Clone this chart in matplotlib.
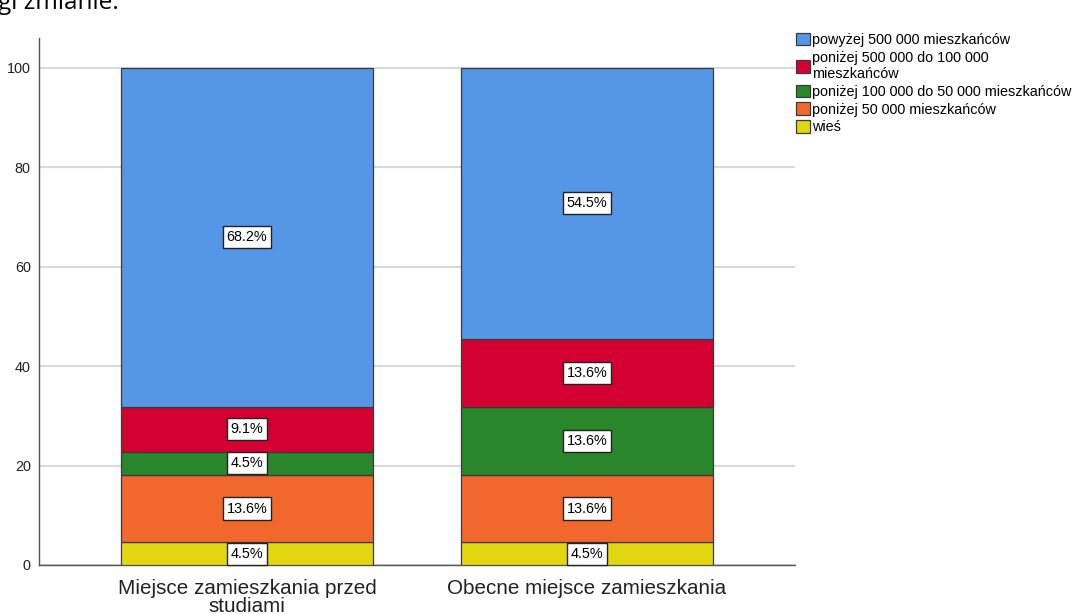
import matplotlib.pyplot as plt
import numpy as np

plt.rcParams['font.family'] = ['Liberation Sans', 'DejaVu Sans']

# data (percent of respondents)
groups = ['Miejsce zamieszkania przed\nstudiami', 'Obecne miejsce zamieszkania']
categories = ['wieś', 'poniżej 50 000 mieszkańców', 'poniżej 100 000 do 50 000 mieszkańców',
              'poniżej 500 000 do 100 000\nmieszkańców', 'powyżej 500 000 mieszkańców']
wies = [4.545, 4.545]
below_50k = [13.636, 13.636]
from_50k_to_100k = [4.545, 13.636]
from_100k_to_500k = [9.091, 13.636]
above_500k = [68.182, 54.545]
yticks = [0, 20, 40, 60, 80, 100]

series = [wies, below_50k, from_50k_to_100k, from_100k_to_500k, above_500k]
colors = ['#e3d80f', '#f2682c', '#2a862a', '#d50032', '#5596e6']

fig = plt.figure(figsize=(10.73, 6.14), dpi=100)
ax = fig.add_axes([39/1073, 1 - 565/614, (795-39)/1073, (565-38)/614])

x = np.arange(len(groups))
bottom = np.zeros(len(groups))
handles = []
for vals, col, lab in zip(series, colors, categories):
    vals = np.array(vals)
    bars = ax.bar(x, vals, 0.741, bottom=bottom, color=col, edgecolor='#3a3a3a',
                  linewidth=0.9, label=lab, zorder=3)
    handles.append(bars)
    for xi, v, b in zip(x, vals, bottom):
        ax.text(xi, b + v/2, f'{v:.1f}%', ha='center', va='center', fontsize=10.4,
                color='black', zorder=4,
                bbox=dict(boxstyle='square,pad=0.28', fc='white', ec='#222222', lw=1.0))
    bottom += vals

ax.set_xlim(-0.612, 1.612)
ax.set_ylim(0, 106)
ax.set_yticks(yticks)
ax.set_xticks(x)
ax.set_xticklabels(groups, fontsize=14.9, color='#222222', linespacing=0.95)
ax.tick_params(axis='y', length=0, labelsize=10.4, colors='#222222', pad=6)
ax.tick_params(axis='x', length=0, pad=10)
ax.grid(axis='y', color='#d9d9d9', linewidth=1.5, zorder=0)
for s in ['top', 'right']:
    ax.spines[s].set_visible(False)
for s in ['left', 'bottom']:
    ax.spines[s].set_color('#555555')
    ax.spines[s].set_linewidth(1.0)

fig.legend(handles[::-1], categories[::-1], loc='upper left',
           bbox_to_anchor=(796/1073, 1 - 33/614), frameon=False, fontsize=10.4,
           handlelength=0.95, handleheight=0.95, handletextpad=0.15,
           labelspacing=0.25, borderaxespad=0, borderpad=0)

# cropped caption remnant at the top of the screenshot
fig.text(-2/1073, 1 - 9/614, 'gi zmianie:', fontsize=17.6, family=['Open Sans', 'DejaVu Sans'],
         va='baseline', ha='left', color='black')

fig.savefig('out.png', dpi=100)
